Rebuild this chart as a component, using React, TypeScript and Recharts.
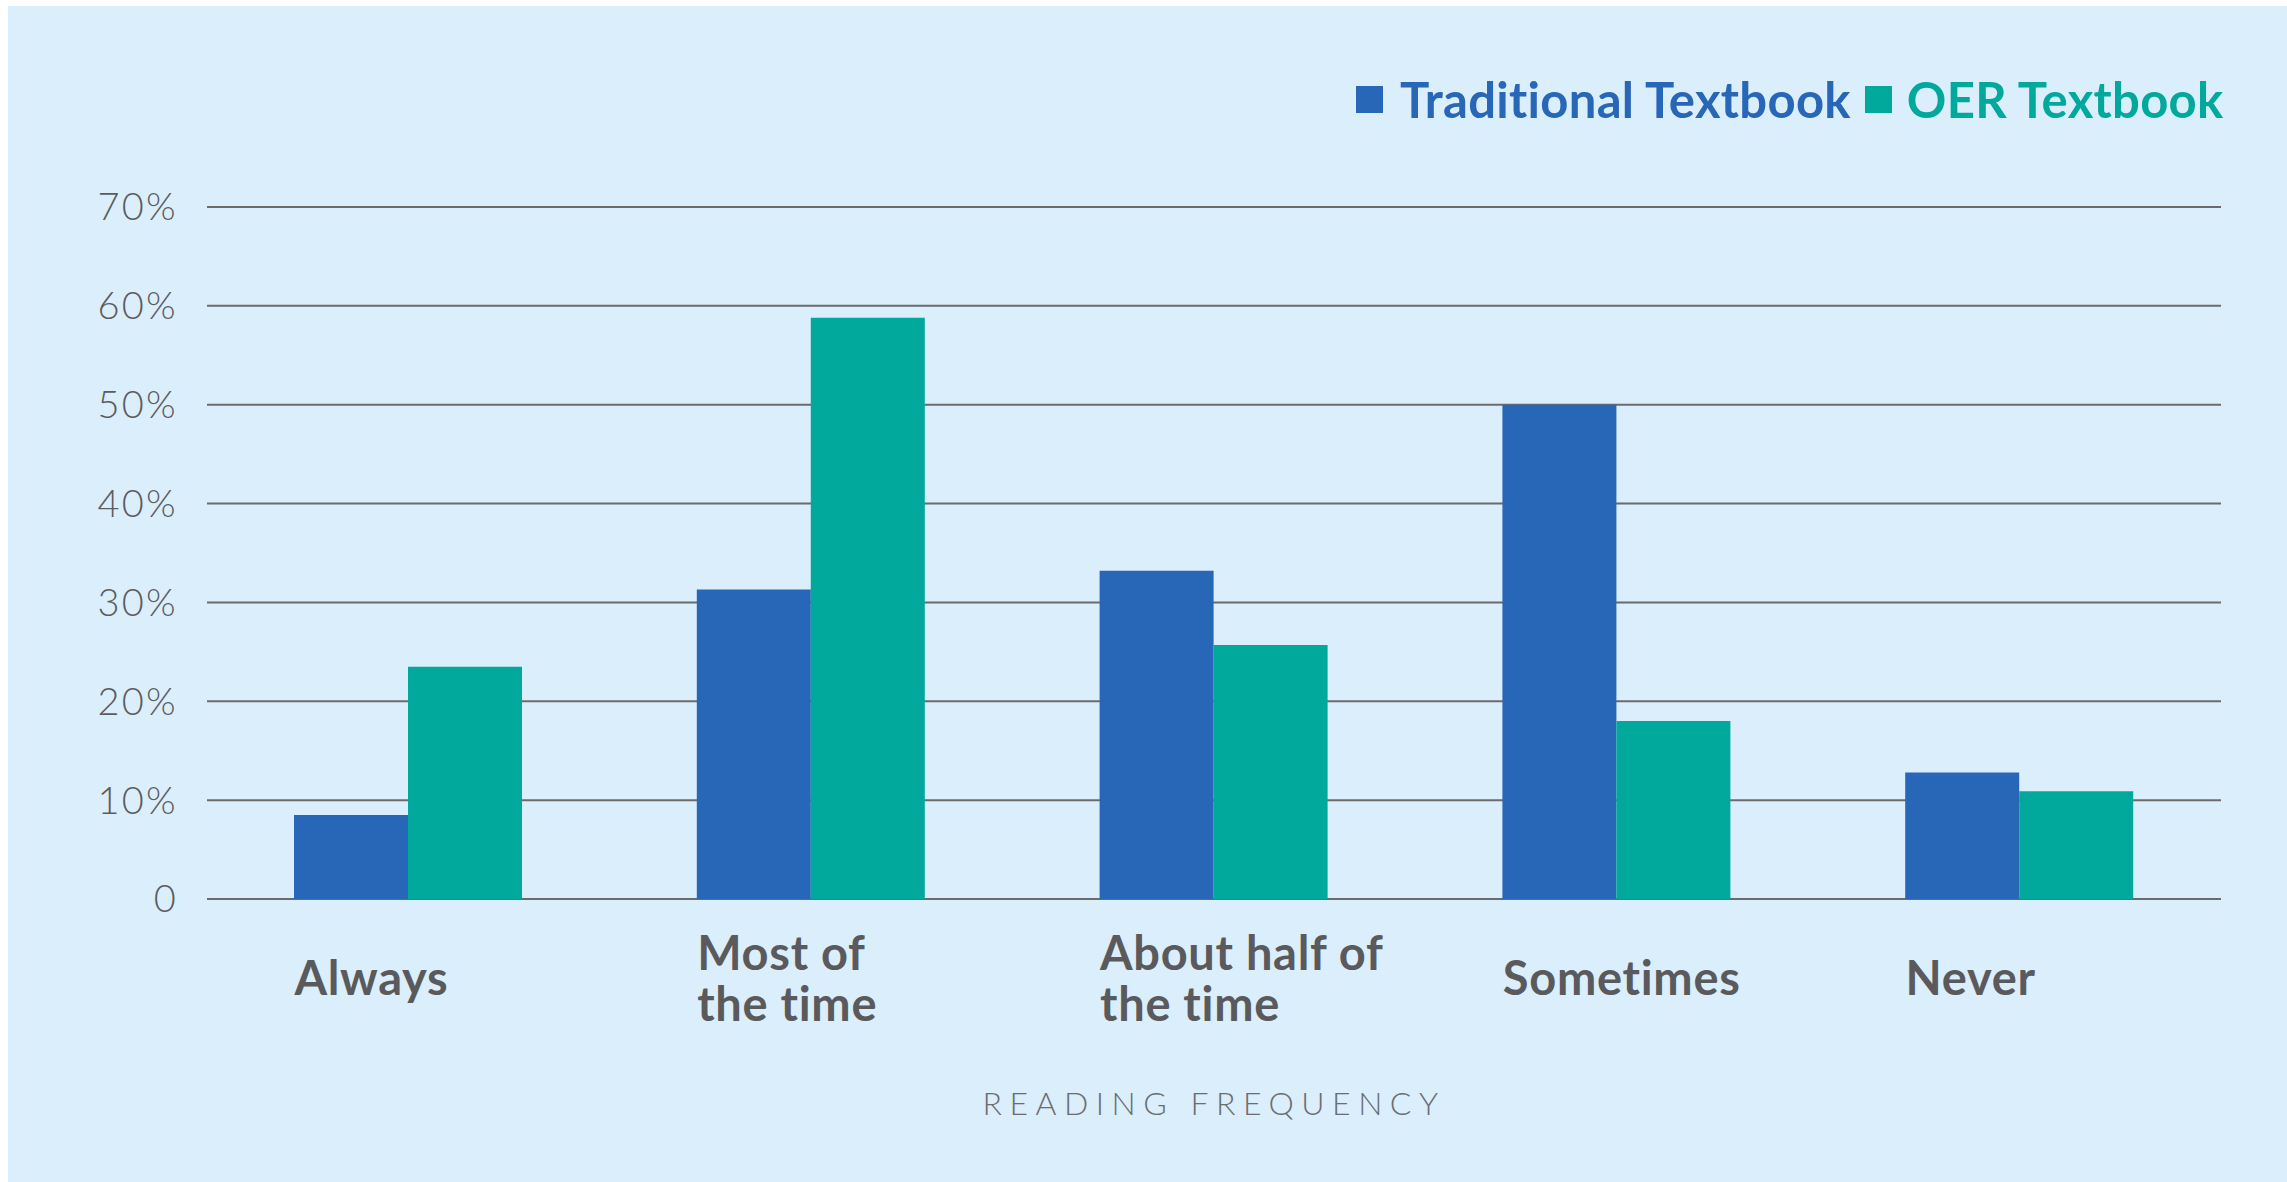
import React from 'react';
import { BarChart, Bar, XAxis, YAxis, CartesianGrid, Legend, Label } from 'recharts';

const categories = ['Always', 'Most of\nthe time', 'About half of\nthe time', 'Sometimes', 'Never'];
const traditional = [8.5, 31.3, 33.2, 50, 12.8];
const oer = [23.5, 58.8, 25.7, 18.0, 10.9];
const yTicks = [0, 10, 20, 30, 40, 50, 60, 70];

const BLUE = '#2866b7';
const TEAL = '#00a99c';
const GREY = '#5a5a5c';

const data = categories.map((c, i) => ({
  name: c,
  traditional: traditional[i],
  oer: oer[i],
}));

const XTick = (props: any) => {
  const { x, y, payload } = props;
  const lines = String(payload.value).split('\n');
  const left = x - 114;
  const base = lines.length === 1 ? [y + 88] : [y + 63, y + 114];
  return (
    <g>
      {lines.map((l, i) => (
        <text
          key={i}
          x={left}
          y={base[i]}
          textAnchor="start"
          fill={GREY}
          fontFamily="Lato, sans-serif"
          fontWeight={700}
          fontSize={47}
          letterSpacing={0.7}
        >
          {l}
        </text>
      ))}
    </g>
  );
};

const renderLegend = () => (
  <div style={{ display: 'flex', alignItems: 'center', fontFamily: 'Lato, sans-serif', fontWeight: 700, fontSize: 49, letterSpacing: 0.3, whiteSpace: 'nowrap' }}>
    <span style={{ width: 27, height: 27, background: BLUE, display: 'inline-block', marginRight: 17 }} />
    <span style={{ color: BLUE, marginRight: 14 }}>Traditional Textbook</span>
    <span style={{ width: 27, height: 27, background: TEAL, display: 'inline-block', marginRight: 15 }} />
    <span style={{ color: TEAL }}>OER Textbook</span>
  </div>
);

const renderTitle = (props: any) => {
  const { viewBox } = props;
  return (
    <text
      x={viewBox.x + viewBox.width / 2}
      y={viewBox.y + 216}
      textAnchor="middle"
      fill="#6b6d70"
      fontFamily="Lato, sans-serif"
      fontWeight={300}
      fontSize={32}
      letterSpacing={7.5}
    >
      READING FREQUENCY
    </text>
  );
};

export default function App() {
  return (
    <div style={{ position: 'fixed', left: 8, top: 6, width: 2279, height: 1176, background: '#dbeefc' }}>
      <BarChart
        width={2279}
        height={1176}
        data={data}
        margin={{ top: 201, right: 66, bottom: 0, left: 0 }}
        barCategoryGap={87}
        barGap={0}
      >
        <CartesianGrid vertical={false} stroke="#6b6b6e" strokeWidth={2} />
        <XAxis
          dataKey="name"
          axisLine={false}
          tickLine={false}
          height={283}
          tick={<XTick />}
          interval={0}
        >
          <Label content={renderTitle} />
        </XAxis>
        <YAxis
          domain={[0, 70]}
          ticks={yTicks}
          width={199}
          axisLine={false}
          tickLine={false}
          tickSize={0}
          tickMargin={29}
          tickFormatter={(v: number) => (v === 0 ? '0' : `${v}%`)}
          tick={{ fill: '#5c5c5e', fontSize: 38, fontFamily: 'Lato, sans-serif', fontWeight: 300, letterSpacing: 2.3 }}
        />
        <Legend
          layout="vertical"
          verticalAlign="middle"
          align="center"
          content={renderLegend}
          wrapperStyle={{ top: 64, left: 1348, width: 'auto' }}
        />
        <Bar dataKey="traditional" name="Traditional Textbook" fill={BLUE} isAnimationActive={false} />
        <Bar dataKey="oer" name="OER Textbook" fill={TEAL} isAnimationActive={false} />
      </BarChart>
    </div>
  );
}
